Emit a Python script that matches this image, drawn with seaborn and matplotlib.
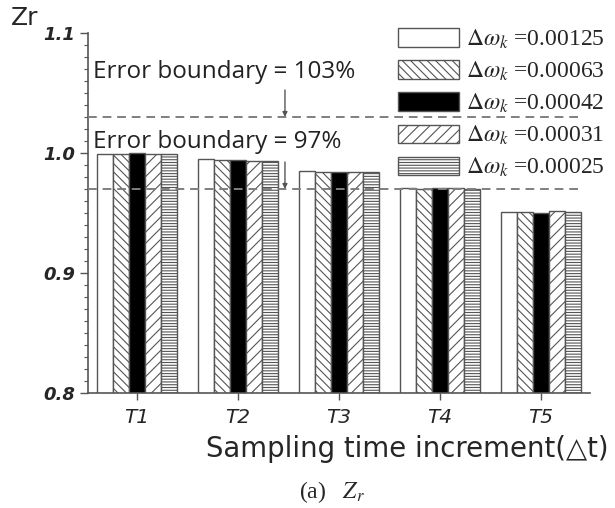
import numpy as np
import pandas as pd
import matplotlib
matplotlib.use("Agg")
import matplotlib.pyplot as plt
import seaborn as sns

# ---- data -------------------------------------------------------------
categories = ["T1", "T2", "T3", "T4", "T5"]
series_labels = ["0.00125", "0.00063", "0.00042", "0.00031", "0.00025"]
zr_00125 = [0.999, 0.995, 0.985, 0.971, 0.951]
zr_00063 = [0.999, 0.994, 0.984, 0.970, 0.951]
zr_00042 = [1.000, 0.994, 0.984, 0.971, 0.950]
zr_00031 = [0.999, 0.993, 0.984, 0.971, 0.952]
zr_00025 = [0.999, 0.993, 0.984, 0.970, 0.951]
upper_bound = 1.03
lower_bound = 0.97
yticks = [0.8, 0.9, 1.0, 1.1]

series_values = [zr_00125, zr_00063, zr_00042, zr_00031, zr_00025]
df = pd.DataFrame({
    "T": np.repeat([categories], len(series_labels), axis=0).ravel(),
    "dw": np.repeat(series_labels, len(categories)),
    "Zr": np.concatenate(series_values),
})

# ---- style ------------------------------------------------------------
sns.set_theme(style="ticks")
plt.rcParams["font.family"] = ["DejaVu Sans"]
plt.rcParams["mathtext.fontset"] = "stix"
plt.rcParams["hatch.linewidth"] = 0.8

edge = "#555555"
fills = ["white", "white", "black", "white", "white"]
hatches = [None, "\\\\\\\\", None, "///", "------"]
serif = ["Liberation Serif", "DejaVu Serif"]

fig = plt.figure(figsize=(6.15, 5.08), dpi=100)
ax = fig.add_axes([88 / 615, 1 - 393 / 508, 502 / 615, 360 / 508])

sns.barplot(data=df, x="T", y="Zr", hue="dw", hue_order=series_labels,
            palette=fills, saturation=1, width=0.8, edgecolor=edge,
            linewidth=1.0, legend=False, ax=ax, zorder=2)

for cont, h in zip(ax.containers, hatches):
    for bar in cont:
        bar.set_edgecolor(edge)
        if h:
            bar.set_hatch(h)

ax.set_xlim(-0.485, 4.485)
ax.set_ylim(0.8, 1.1)
ax.set_yticks(yticks)
ax.set_yticklabels([f"{v:.1f}" for v in yticks], fontstyle="italic",
                   fontweight="bold", fontsize=13)
ax.set_yticks(np.arange(0.8, 1.1001, 0.01), minor=True)
ax.set_xticks(range(len(categories)))
ax.set_xticklabels(categories, fontstyle="italic", fontsize=14.5)
ax.tick_params(axis="y", which="major", direction="out", length=6, width=1,
               color=edge, pad=3)
ax.tick_params(axis="y", which="minor", direction="out", length=3, width=0.8,
               color=edge)
ax.tick_params(axis="x", which="major", direction="out", length=5, width=1,
               color=edge, pad=6)
for s in ["top", "right"]:
    ax.spines[s].set_visible(False)
for s in ["left", "bottom"]:
    ax.spines[s].set_color(edge)
    ax.spines[s].set_linewidth(1.2)
ax.set_ylabel("")

ax.set_xlabel("Sampling time increment(\u25b3t)", fontsize=19.8)
ax.xaxis.set_label_coords(0.636, -0.118)

# ---- error boundaries -------------------------------------------------
for b in (upper_bound, lower_bound):
    ax.hlines(b, -0.485, 4.39, colors="#7f7f7f", linewidth=1.4,
              linestyles=(0, (4.5, 3)), zorder=3)

txt_kw = dict(fontsize=17.5, family=["Open Sans", "DejaVu Sans"], color="#222222",
              va="center", ha="left", zorder=4)
ax.text(-0.44, 1.0675, f"Error boundary = {upper_bound * 100:.0f}%", **txt_kw)
ax.text(-0.44, 1.009, f"Error boundary = {lower_bound * 100:.0f}%", **txt_kw)
arrow_kw = dict(arrowstyle="-|>", color="#555555", lw=1.0, mutation_scale=7,
                shrinkA=0, shrinkB=0)
ax.annotate("", xy=(1.465, upper_bound), xytext=(1.465, 1.0525),
            arrowprops=arrow_kw, zorder=4)
ax.annotate("", xy=(1.465, lower_bound), xytext=(1.465, 0.9925),
            arrowprops=arrow_kw, zorder=4)

# ---- legend -----------------------------------------------------------
handles = [cont[0] for cont in ax.containers]
labels = [rf"$\Delta\omega_k$ =" + s for s in series_labels]
leg = ax.legend(handles, labels, loc="upper left",
                bbox_to_anchor=(398 / 615, 1 - 28 / 508),
                bbox_transform=fig.transFigure, frameon=False,
                borderpad=0, borderaxespad=0, handlelength=2.6,
                handleheight=0.85, handletextpad=0.3, labelspacing=0.37,
                prop={"family": serif, "size": 17})
leg.set_zorder(5)

# ---- outer labels -----------------------------------------------------
fig.text(11 / 615, 1 - 18 / 508, "Zr", fontsize=18, va="center", ha="left")
fig.text(332 / 615, 1 - 492 / 508, r"(a)   $Z_r$", fontsize=17, va="center",
         ha="center", family=serif)

fig.savefig("out.png", dpi=100)
